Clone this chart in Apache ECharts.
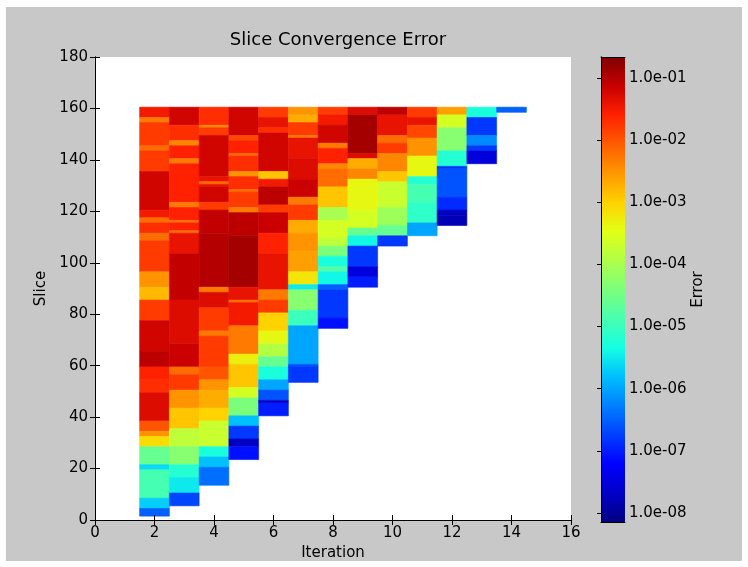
<!DOCTYPE html>
<html>
<head>
<meta charset="utf-8">
<title>Slice Convergence Error</title>
<script src="https://cdn.jsdelivr.net/npm/echarts@6/dist/echarts.min.js"></script>
<style>
  html, body { margin: 0; padding: 0; background: #fff; }
  #frame { position: absolute; left: 6px; top: 7px; width: 736px; height: 554px; background: #c8c8c8; }
  #chart { position: absolute; left: 0; top: 0; width: 748px; height: 567px; }
</style>
</head>
<body>
<div id="frame"></div>
<div id="chart"></div>
<script>
// bands per iteration: [first slice, last slice, log10(error)], read top to bottom
const iter2Bands = [
  [157, 160, -1.5], [155, 156, -2.3], [146, 154, -1.8], [144, 145, -2.2], [136, 143, -1.8],
  [121, 135, -1.2], [118, 120, -1.5], [116, 117, -2.2], [112, 115, -1.7], [109, 111, -2.2],
  [97, 108, -1.8], [91, 96, -2.5], [86, 90, -2.8], [78, 85, -1.8], [66, 77, -1.2],
  [60, 65, -1.05], [55, 59, -1.6], [50, 54, -1.7], [39, 49, -1.3], [35, 38, -2.0],
  [33, 34, -2.5], [29, 32, -3.1], [22, 28, -4.6], [20, 21, -5.6], [9, 19, -4.9],
  [5, 8, -5.7], [2, 4, -6.5]
]
const iter3Bands = [
  [154, 160, -1.2], [148, 153, -1.7], [146, 147, -2.4], [141, 145, -1.6], [139, 140, -2.3],
  [124, 138, -1.6], [122, 123, -2.3], [117, 121, -1.6], [116, 116, -2.2], [113, 115, -1.6],
  [112, 112, -2.2], [104, 111, -1.4], [86, 103, -1.1], [69, 85, -1.3], [60, 68, -1.15],
  [57, 59, -2.2], [51, 56, -1.8], [44, 50, -2.5], [36, 43, -2.9], [29, 35, -3.8],
  [22, 28, -4.3], [17, 21, -5.2], [11, 16, -5.5], [6, 10, -6.7]
]
const iter4Bands = [
  [154, 160, -1.7], [153, 153, -2.4], [150, 152, -1.8], [134, 149, -1.2], [132, 133, -1.4],
  [131, 131, -2.2], [130, 130, -1.4], [124, 129, -1.2], [121, 123, -1.8], [112, 120, -1.1],
  [91, 111, -1.0], [89, 90, -2.3], [83, 88, -1.3], [74, 82, -1.8], [72, 73, -2.3],
  [60, 71, -1.8], [55, 59, -2.0], [51, 54, -2.5], [44, 50, -2.7], [39, 43, -3.0],
  [29, 38, -3.7], [25, 28, -5.3], [21, 24, -5.8], [14, 20, -6.4]
]
const iter5Bands = [
  [150, 160, -1.2], [148, 149, -1.9], [143, 147, -1.6], [142, 142, -2.2], [136, 141, -1.7],
  [134, 135, -2.5], [129, 133, -1.7], [128, 128, -2.2], [122, 127, -1.8], [120, 121, -2.3],
  [111, 119, -1.05], [91, 110, -0.9], [86, 90, -1.4], [85, 85, -2.2], [76, 84, -1.5],
  [65, 75, -2.3], [61, 64, -3.3], [52, 60, -2.9], [48, 51, -3.6], [41, 47, -4.4],
  [37, 40, -5.8], [32, 36, -6.8], [29, 31, -7.7], [24, 28, -7.1]
]
const iter6Bands = [
  [157, 160, -1.8], [153, 156, -1.4], [151, 152, -1.7], [136, 150, -1.2], [133, 135, -2.9],
  [130, 132, -1.5], [123, 129, -1.05], [120, 122, -1.8], [112, 119, -1.15], [104, 111, -1.6],
  [90, 103, -1.4], [86, 89, -2.3], [81, 85, -1.8], [74, 80, -3.0], [69, 73, -3.4],
  [64, 68, -3.9], [60, 63, -4.6], [55, 59, -5.3], [51, 54, -6.0], [47, 50, -6.6],
  [46, 46, -7.7], [41, 45, -7.0]
]
const iter7Bands = [
  [158, 160, -2.5], [155, 157, -2.7], [150, 154, -1.8], [149, 149, -2.3], [141, 148, -1.4],
  [133, 140, -1.3], [126, 132, -1.15], [123, 125, -2.3], [117, 122, -1.8], [112, 116, -2.7],
  [105, 111, -2.5], [97, 104, -2.6], [92, 96, -3.2], [90, 91, -5.5], [82, 89, -4.3],
  [76, 81, -5.0], [61, 75, -6.0], [60, 60, -6.6], [54, 59, -6.8]
]
const iter8Bands = [
  [158, 160, -1.8], [154, 157, -1.5], [147, 153, -1.2], [145, 146, -2.3], [139, 144, -1.6],
  [137, 138, -2.4], [130, 136, -2.2], [122, 129, -2.9], [117, 121, -4.0], [110, 116, -3.6],
  [107, 109, -3.8], [103, 106, -4.4], [99, 102, -5.3], [97, 98, -4.8], [92, 96, -5.4],
  [90, 91, -6.5], [79, 89, -6.8], [75, 78, -7.1]
]
const iter9Bands = [
  [158, 160, -1.3], [143, 157, -0.9], [141, 142, -1.3], [137, 140, -2.7], [133, 136, -2.4],
  [121, 132, -3.4], [114, 120, -3.6], [111, 113, -4.6], [107, 110, -5.4], [99, 106, -6.8],
  [95, 98, -7.5], [91, 94, -7.0]
]
const iter10Bands = [
  [158, 160, -1.05], [150, 157, -1.4], [147, 149, -2.2], [143, 146, -1.8], [136, 142, -2.4],
  [132, 135, -2.9], [122, 131, -3.7], [115, 121, -4.1], [111, 114, -4.6], [107, 110, -6.8]
]
const iter11Bands = [
  [157, 160, -1.8], [154, 156, -1.4], [149, 153, -1.9], [142, 148, -2.5], [134, 141, -3.4],
  [131, 133, -5.2], [124, 130, -4.9], [116, 123, -5.1], [111, 115, -6.0]
]
const iter12Bands = [
  [158, 160, -2.6], [153, 157, -3.6], [144, 152, -4.3], [138, 143, -5.2], [137, 137, -6.8],
  [126, 136, -6.6], [121, 125, -6.9], [119, 120, -7.7], [115, 118, -7.8]
]
const iter13Bands = [
  [157, 160, -5.3], [150, 156, -6.8], [146, 149, -6.2], [144, 145, -6.8], [139, 143, -7.5]
]
const iter14Bands = [
  [159, 160, -6.5]
]

const iterations = [2, 3, 4, 5, 6, 7, 8, 9, 10, 11, 12, 13, 14]
const bandsByIteration = [
  iter2Bands, iter3Bands, iter4Bands, iter5Bands, iter6Bands, iter7Bands, iter8Bands,
  iter9Bands, iter10Bands, iter11Bands, iter12Bands, iter13Bands, iter14Bands
]

// colour bar limits, log10(error)
const errorLogRange = [-8.145, -0.662]
const colorbarTicks = [-8, -7, -6, -5, -4, -3, -2, -1]

// matplotlib "jet"
const jetColors = [
  '#000080', '#0000c8', '#0000ff', '#0040ff', '#0080ff', '#00bfff', '#15ffe2', '#48ffaf',
  '#7bff7b', '#afff48', '#e2ff15', '#ffd200', '#ff9700', '#ff5c00', '#ff2100', '#c80000', '#800000'
]

const cells = []
iterations.forEach((it, i) => {
  bandsByIteration[i].forEach(b => cells.push([it, b[0], b[1], b[2]]))
})

const font = 'DejaVu Sans'
const black = '#000'

function renderCell(params, api) {
  const it = api.value(0)
  const topLeft = api.coord([it - 0.5, api.value(2) + 0.5])
  const bottomRight = api.coord([it + 0.5, api.value(1) - 0.5])
  const c = api.visual('color')
  return {
    type: 'rect',
    shape: {
      x: topLeft[0],
      y: topLeft[1],
      width: bottomRight[0] - topLeft[0],
      height: bottomRight[1] - topLeft[1]
    },
    style: { fill: c, stroke: c, lineWidth: 0.6 }
  }
}

function renderColorbar(params, api) {
  const topLeft = api.coord([api.value(0), api.value(3)])
  const bottomRight = api.coord([api.value(2), api.value(1)])
  const stops = jetColors.map((c, i) => ({ offset: i / (jetColors.length - 1), color: c }))
  return {
    type: 'rect',
    shape: {
      x: topLeft[0],
      y: topLeft[1],
      width: bottomRight[0] - topLeft[0],
      height: bottomRight[1] - topLeft[1]
    },
    style: { fill: new echarts.graphic.LinearGradient(0, 1, 0, 0, stops) }
  }
}

const tickStyle = { inside: true, length: 5, lineStyle: { color: black } }
const lineStyle = { lineStyle: { color: black, width: 1 } }
const labelStyle = { color: black, fontSize: 15, fontFamily: font }

const chart = echarts.init(document.getElementById('chart'))
const option = {
  backgroundColor: 'transparent',
  animation: false,
  textStyle: { fontFamily: font },
  title: {
    text: 'Slice Convergence Error',
    left: 333,
    top: 26,
    textAlign: 'center',
    textStyle: { color: black, fontSize: 18, fontWeight: 'normal', fontFamily: font }
  },
  grid: [
    { left: 95, top: 57, width: 476, height: 463, show: true, backgroundColor: '#fff', borderWidth: 0 },
    { left: 601, top: 57, width: 24, height: 465, show: false }
  ],
  visualMap: {
    type: 'continuous',
    show: false,
    seriesIndex: 0,
    dimension: 3,
    min: errorLogRange[0],
    max: errorLogRange[1],
    inRange: { color: jetColors }
  },
  xAxis: [
    {
      gridIndex: 0, type: 'value', position: 'bottom', min: 0, max: 16, interval: 2,
      axisLine: lineStyle, axisTick: tickStyle, splitLine: { show: false },
      axisLabel: { ...labelStyle, margin: 6 },
      name: 'Iteration', nameLocation: 'middle', nameGap: 23,
      nameTextStyle: labelStyle, z: 5
    },
    {
      gridIndex: 0, type: 'value', position: 'top', min: 0, max: 16, interval: 2,
      axisLine: lineStyle, axisTick: tickStyle, splitLine: { show: false },
      axisLabel: { show: false }, z: 5
    },
    {
      gridIndex: 1, type: 'value', position: 'bottom', min: 0, max: 1,
      axisLine: lineStyle, axisTick: { show: false }, axisLabel: { show: false },
      splitLine: { show: false }, z: 5
    },
    {
      gridIndex: 1, type: 'value', position: 'top', min: 0, max: 1,
      axisLine: lineStyle, axisTick: { show: false }, axisLabel: { show: false },
      splitLine: { show: false }, z: 5
    }
  ],
  yAxis: [
    {
      gridIndex: 0, type: 'value', position: 'left', min: 0, max: 180, interval: 20,
      axisLine: lineStyle, axisTick: tickStyle, splitLine: { show: false },
      axisLabel: { ...labelStyle, margin: 7 },
      name: 'Slice', nameLocation: 'middle', nameGap: 39, nameRotate: 90,
      nameTextStyle: labelStyle, z: 5
    },
    {
      gridIndex: 0, type: 'value', position: 'right', min: 0, max: 180, interval: 20,
      axisLine: lineStyle, axisTick: tickStyle, splitLine: { show: false },
      axisLabel: { show: false }, z: 5
    },
    {
      gridIndex: 1, type: 'value', position: 'right', min: errorLogRange[0], max: errorLogRange[1],
      axisLine: lineStyle, splitLine: { show: false },
      axisTick: { ...tickStyle, length: 4, customValues: colorbarTicks },
      axisLabel: {
        ...labelStyle, margin: 4, customValues: colorbarTicks,
        formatter: v => '1.0e-' + String(Math.round(-v)).padStart(2, '0')
      },
      name: 'Error', nameLocation: 'middle', nameGap: 66, nameRotate: 90,
      nameTextStyle: labelStyle, z: 5
    },
    {
      gridIndex: 1, type: 'value', position: 'left', min: errorLogRange[0], max: errorLogRange[1],
      axisLine: lineStyle, axisTick: { show: false }, axisLabel: { show: false },
      splitLine: { show: false }, z: 5
    }
  ],
  series: [
    {
      type: 'custom',
      xAxisIndex: 0,
      yAxisIndex: 0,
      renderItem: renderCell,
      encode: { x: 0, y: [1, 2] },
      data: cells
    },
    {
      type: 'custom',
      xAxisIndex: 2,
      yAxisIndex: 2,
      renderItem: renderColorbar,
      encode: { x: [0, 2], y: [1, 3] },
      data: [[0, errorLogRange[0], 1, errorLogRange[1]]]
    }
  ]
}
chart.setOption(option)
</script>
</body>
</html>
